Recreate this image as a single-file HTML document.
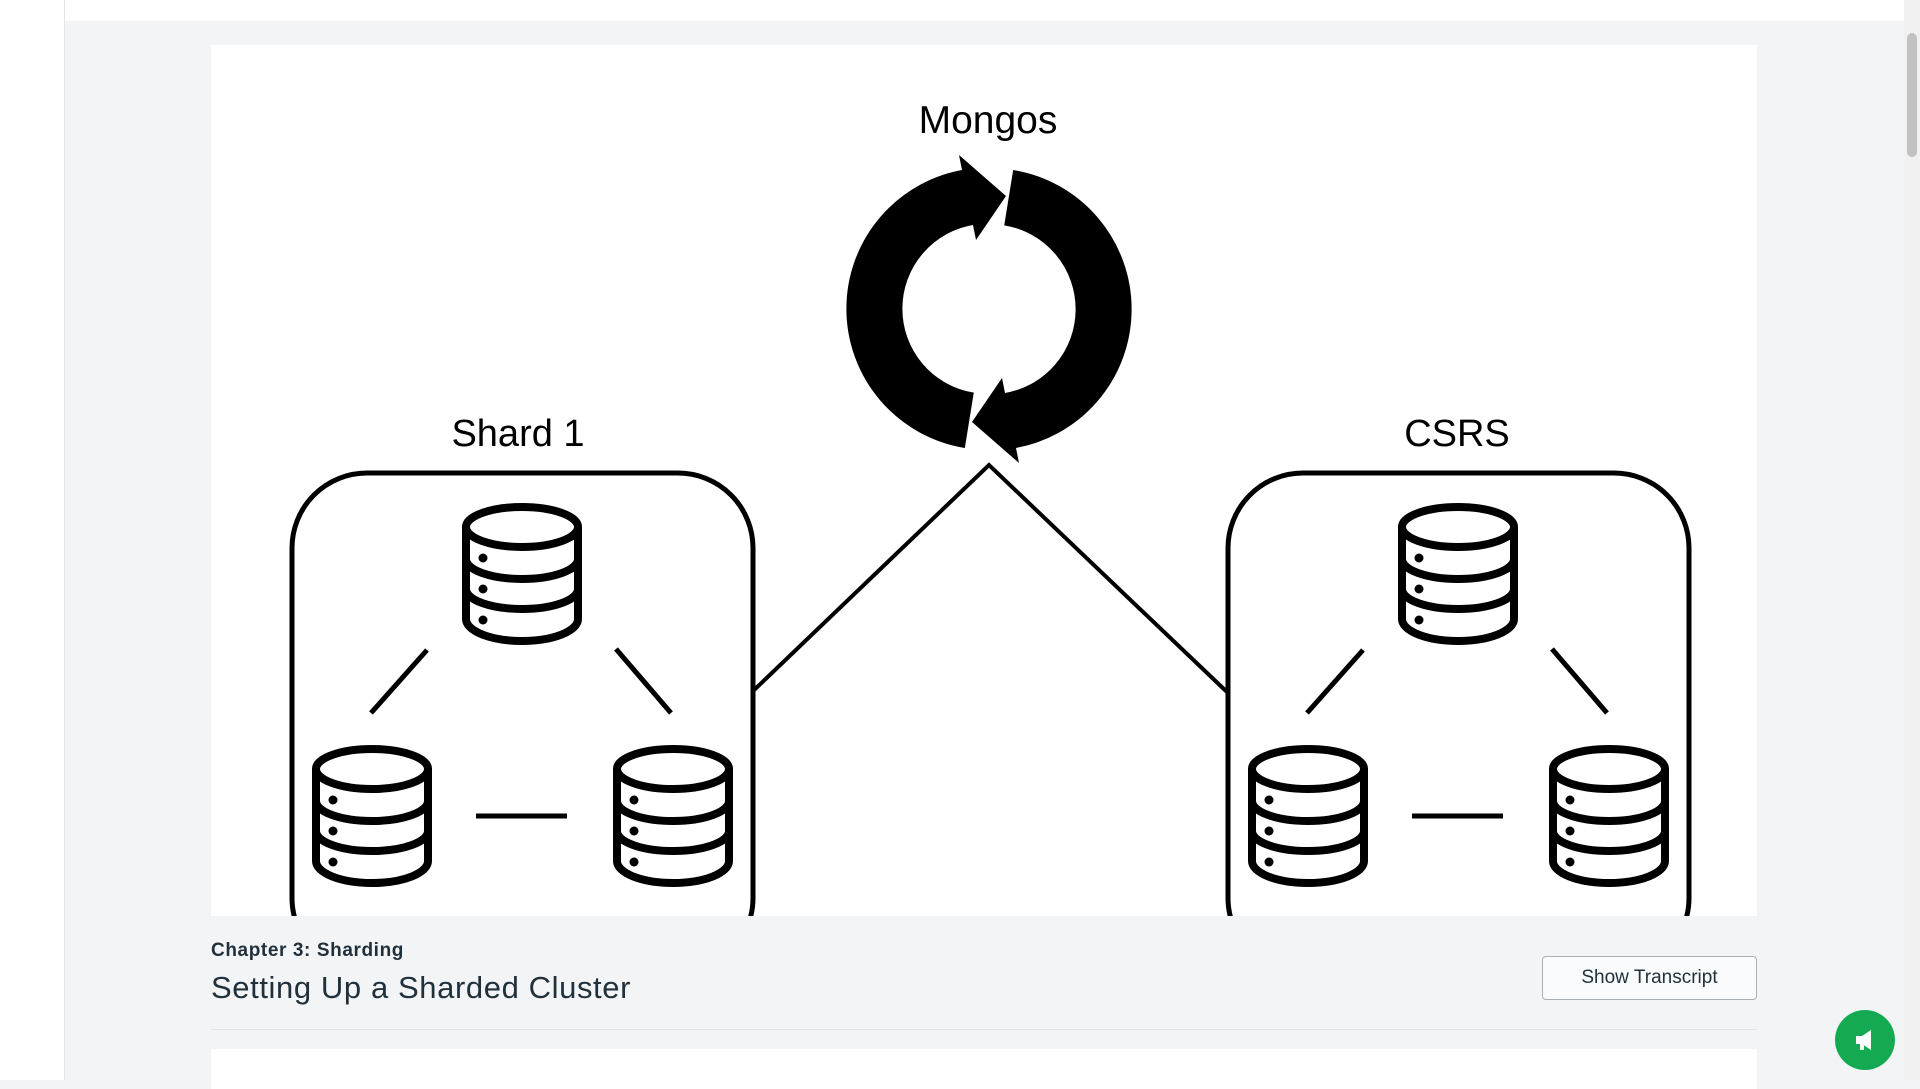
<!DOCTYPE html>
<html><head><meta charset="utf-8"><style>
body{margin:0;width:1920px;height:1080px;overflow:hidden;background:#f3f4f6;font-family:"Liberation Sans",sans-serif;position:relative}
.side{position:absolute;left:0;top:0;width:64px;height:1080px;background:#fff;border-right:1px solid #e3e5e8}
.top{position:absolute;left:65px;top:0;width:1839px;height:21px;background:#fff}
.sb{position:absolute;left:1904px;top:0;width:16px;height:1080px;background:#f1f1f1}
.thumb{position:absolute;left:1907px;top:33px;width:10px;height:124px;background:#c1c1c1;border-radius:5px}
.img{position:absolute;left:211px;top:45px;width:1546px;height:871px;background:#fff;overflow:hidden}
.ch{position:absolute;left:211px;top:940px;font-size:19px;letter-spacing:0.6px;font-weight:bold;color:#21313c}
.ti{position:absolute;left:211px;top:970px;font-size:31px;letter-spacing:0.6px;color:#21313c}
.btn{position:absolute;left:1542px;top:956px;width:213px;height:42px;border:1px solid #a8b0b6;border-radius:4px;background:#fafbfc;font-size:19px;color:#21313c;text-align:center;line-height:42px}
.hr{position:absolute;left:211px;top:1029px;width:1546px;height:1px;background:#e3e5e8}
.card{position:absolute;left:211px;top:1049px;width:1546px;height:40px;background:#fff}
.fab{position:absolute;left:1835px;top:1010px;width:60px;height:60px;border-radius:50%;background:#13aa52}
</style></head><body>
<div class="side"></div><div class="top"></div>
<div class="img">
<svg width="1546" height="871" viewBox="211 45 1546 871" xmlns="http://www.w3.org/2000/svg">
<defs>
<g id="cyl" fill="none" stroke="#000" stroke-width="8">
<ellipse cx="62" cy="24" rx="56" ry="20"/>
<path d="M6,24 V116 A56,22 0 0 0 118,116 V24"/>
<path d="M6,56 A56,20 0 0 0 118,56"/>
<path d="M6,86 A56,20 0 0 0 118,86"/>
<circle cx="23" cy="55" r="4.5" fill="#000" stroke="none"/>
<circle cx="23" cy="86" r="4.5" fill="#000" stroke="none"/>
<circle cx="23" cy="117" r="4.5" fill="#000" stroke="none"/>
</g>
<g id="cluster">
<rect x="292" y="473" width="461" height="500" rx="75" fill="none" stroke="#000" stroke-width="5"/>
<use href="#cyl" x="460" y="503"/>
<use href="#cyl" x="310" y="745"/>
<use href="#cyl" x="611" y="745"/>
<g stroke="#000" stroke-width="5">
<line x1="427" y1="650" x2="371" y2="713"/>
<line x1="616" y1="649" x2="671" y2="713"/>
<line x1="476" y1="816" x2="567" y2="816"/>
</g>
</g>
<g id="arc">
<path d="M969.3,420.3 A113,113 0 0 1 970,197.1" fill="none" stroke="#000" stroke-width="56"/>
<polygon points="976,240 959,155 1006,196" fill="#000"/>
</g>
</defs>
<text x="988" y="133" font-size="39" text-anchor="middle" font-family="Liberation Sans">Mongos</text>
<use href="#arc"/>
<use href="#arc" transform="rotate(180 989 309)"/>
<text x="518" y="446" font-size="38" text-anchor="middle" font-family="Liberation Sans">Shard 1</text>
<text x="1457" y="446" font-size="38" text-anchor="middle" font-family="Liberation Sans">CSRS</text>
<use href="#cluster"/>
<use href="#cluster" x="936"/>
<polyline points="752,692 989,465 1227,692" fill="none" stroke="#000" stroke-width="4"/>
</svg>
</div>
<div class="ch">Chapter 3: Sharding</div>
<div class="ti">Setting Up a Sharded Cluster</div>
<div class="btn">Show Transcript</div>
<div class="hr"></div>
<div class="card"></div>
<div class="fab"><svg width="60" height="60"><path d="M21,26 h6 l9,-6 v20 l-9,-6 h-6z M25,34 h4 v6 h-4z" fill="#fff"/></svg></div>
<div class="sb"></div><div class="thumb"></div>
</body></html>
